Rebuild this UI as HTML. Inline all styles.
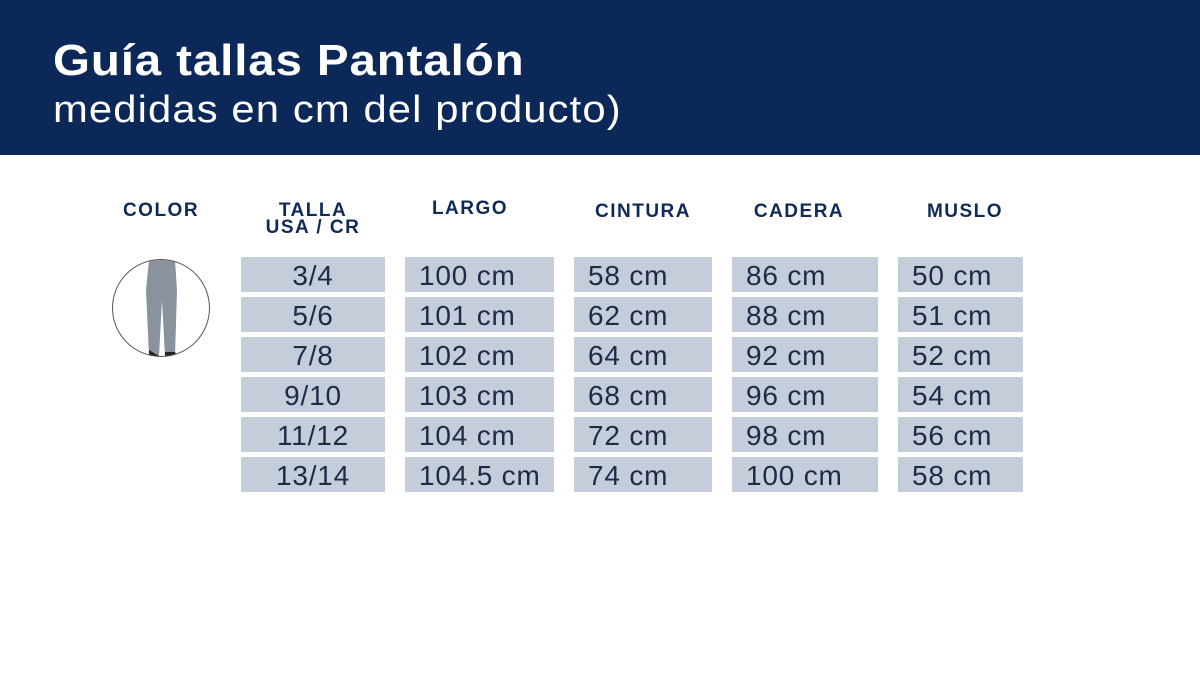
<!DOCTYPE html>
<html><head><meta charset="utf-8"><style>
*{margin:0;padding:0;box-sizing:border-box}
body{width:1200px;height:697px;background:#fff;font-family:"Liberation Sans",sans-serif;position:relative;overflow:hidden;color:#1d2b4a}
.hdr{position:absolute;left:0;top:0;width:1200px;height:155px;background:#0c2859}
.t1{position:absolute;left:53px;top:36px;font-size:44px;font-weight:bold;color:#fff;letter-spacing:0.8px;transform:scaleX(1.08);transform-origin:left}
.t2{position:absolute;left:53px;top:89px;font-size:38px;color:#fff;letter-spacing:1px;transform:scaleX(1.1);transform-origin:left}
.h{position:absolute;font-size:19px;font-weight:bold;color:#0e2a57;text-align:center;line-height:17px;letter-spacing:1.5px}
.c{position:absolute;height:35px;background:#c4cdd9;font-size:28px;line-height:37px;color:#1e2b48;padding-left:14px;white-space:nowrap;letter-spacing:0.8px}
.ctr{text-align:center;padding-left:0}
.circ{position:absolute;left:112px;top:259px;width:98px;height:98px;border-radius:50%;border:1px solid #555;overflow:hidden;background:#fff}
</style></head><body>
<div class="hdr"></div>
<div class="t1">Guía tallas Pantalón</div>
<div class="t2">medidas en cm del producto)</div>
<div class="h" style="left:111px;top:202px;width:100px">COLOR</div>
<div class="h" style="left:241px;top:202px;width:144px">TALLA<br>USA / CR</div>
<div class="h" style="left:420px;top:200px;width:100px">LARGO</div>
<div class="h" style="left:574px;top:203px;width:138px">CINTURA</div>
<div class="h" style="left:732px;top:203px;width:134px">CADERA</div>
<div class="h" style="left:898px;top:203px;width:134px">MUSLO</div>
<div class="circ"><svg width="98" height="98"><path d="M36 0 L62 0 L64 30 L62 96 L52 96 L49 40 L46 96 L36 96 L33 30 Z" fill="#8a929c"/><path d="M36 90 L46 96 L36 96Z M52 92 L62 92 L64 96 L52 96Z" fill="#222"/></svg></div>
<div id="g"></div>
<script>
var cols=[[241,144,1],[405,149,0],[574,138,0],[732,146,0],[898,125,0]];
var d=[["3/4","100 cm","58 cm","86 cm","50 cm"],["5/6","101 cm","62 cm","88 cm","51 cm"],["7/8","102 cm","64 cm","92 cm","52 cm"],["9/10","103 cm","68 cm","96 cm","54 cm"],["11/12","104 cm","72 cm","98 cm","56 cm"],["13/14","104.5 cm","74 cm","100 cm","58 cm"]];
var h="";for(var r=0;r<6;r++)for(var c=0;c<5;c++){h+='<div class="c'+(cols[c][2]?' ctr':'')+'" style="left:'+cols[c][0]+'px;top:'+(257+r*40)+'px;width:'+cols[c][1]+'px">'+d[r][c]+'</div>';}
document.getElementById('g').innerHTML=h;
</script>
</body></html>
